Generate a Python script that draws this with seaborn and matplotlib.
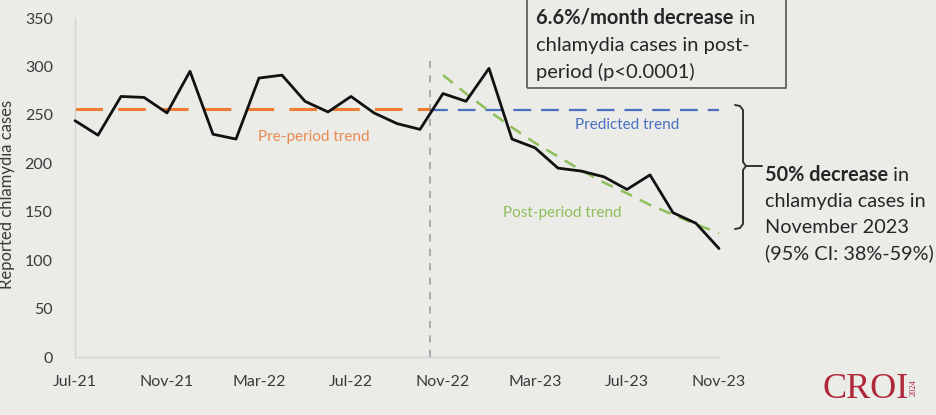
import numpy as np
import pandas as pd
import matplotlib
matplotlib.use("Agg")
import matplotlib.pyplot as plt
from matplotlib.patches import Rectangle
from matplotlib.lines import Line2D
import seaborn as sns

# ---- data -----------------------------------------------------------------
months = ["Jul-21", "Aug-21", "Sep-21", "Oct-21", "Nov-21", "Dec-21", "Jan-22",
          "Feb-22", "Mar-22", "Apr-22", "May-22", "Jun-22", "Jul-22", "Aug-22",
          "Sep-22", "Oct-22", "Nov-22", "Dec-22", "Jan-23", "Feb-23", "Mar-23",
          "Apr-23", "May-23", "Jun-23", "Jul-23", "Aug-23", "Sep-23", "Oct-23",
          "Nov-23"]
cases = [244, 229, 269, 268, 252, 295, 230, 225, 288, 291, 264, 253, 269, 252,
         241, 235, 272, 264, 298, 225, 216, 195, 192, 186, 173, 188, 149, 138,
         112]

pre_trend_x = [0, 15.45]
pre_trend_y = [256, 256]
predicted_x = [15.45, 28]
predicted_y = [255, 255]
post_trend_x = list(range(16, 29))
post_trend_y = [291, 272, 254, 237, 221, 207, 193, 180, 169, 157, 147, 137, 128]
intervention_x = 15.45

tick_idx = [0, 4, 8, 12, 16, 20, 24, 28]
y_ticks = [0, 50, 100, 150, 200, 250, 300, 350]

# ---- style ----------------------------------------------------------------
BG = "#ebebe8"
TXT = "#3a3a3a"
sns.set_theme(style="white")
plt.rcParams["font.family"] = ["Lato", "DejaVu Sans"]

W, H = 937, 415
fig = plt.figure(figsize=(W / 100, H / 100), dpi=100, facecolor=BG)
ax = fig.add_axes([75 / W, 58 / H, 644 / W, 339 / H], facecolor=BG)

def fx(px):
    return px / W

def fy(py):
    return 1 - py / H

df = pd.DataFrame({"month": np.arange(len(cases)), "cases": cases})
pre = pd.DataFrame({"x": pre_trend_x, "y": pre_trend_y})
pred = pd.DataFrame({"x": predicted_x, "y": predicted_y})
post = pd.DataFrame({"x": post_trend_x, "y": post_trend_y})

# trend lines
sns.lineplot(data=pre, x="x", y="y", ax=ax, color="#ed7d31", lw=2.2, zorder=2)
ax.lines[-1].set_dashes([9, 5])
sns.lineplot(data=pred, x="x", y="y", ax=ax, color="#4a70c0", lw=1.6, zorder=2)
ax.lines[-1].set_dashes([8, 4.5])
sns.lineplot(data=post, x="x", y="y", ax=ax, color="#8dbf5a", lw=1.8, zorder=2)
ax.lines[-1].set_dashes([5, 3.5])

# intervention marker
ax.plot([intervention_x, intervention_x], [0, 312], color="#a6a6a6", lw=1.3,
        dashes=[4, 4], zorder=1)

# observed monthly cases
sns.lineplot(data=df, x="month", y="cases", ax=ax, color="#111111", lw=2.0,
             zorder=3)
for ln in ax.lines:
    ln.set_clip_on(False)

ax.set_xlim(0, 28)
ax.set_ylim(0, 350)
ax.set_xticks(tick_idx)
ax.set_xticklabels([months[i] for i in tick_idx])
ax.set_yticks(y_ticks)
ax.tick_params(axis="x", length=4, width=1, color="#d4d4d4", pad=9,
               labelsize=11.5, labelcolor=TXT)
ax.tick_params(axis="y", length=0, pad=16, labelsize=11.5, labelcolor=TXT)
ax.set_xlabel("")
ax.set_ylabel("Reported chlamydia cases", fontsize=12, color=TXT)
ax.yaxis.set_label_coords((15 - 75) / 644, (357 - 194) / 339)
for s in ["top", "right"]:
    ax.spines[s].set_visible(False)
for s in ["left", "bottom"]:
    ax.spines[s].set_color("#d4d4d4")
    ax.spines[s].set_linewidth(1.0)

# trend labels
ax.text(10.4, 227, "Pre-period trend", color="#e98a50", fontsize=11,
        ha="center", va="center")
ax.text(24.0, 240, "Predicted trend", color="#4a70c0", fontsize=11,
        ha="center", va="center")
ax.text(21.2, 149, "Post-period trend", color="#8dbf5a", fontsize=11,
        ha="center", va="center")

# ---- annotations ----------------------------------------------------------
fig.canvas.draw()
renderer = fig.canvas.get_renderer()

def runs(x_px, y_px, parts, size=14.3):
    """Place text pieces of mixed weight one after another on one line."""
    x = x_px
    for text, weight in parts:
        t = fig.text(fx(x), fy(y_px), text, fontsize=size, weight=weight,
                     color="#262626", ha="left", va="center")
        bb = t.get_window_extent(renderer)
        x += bb.width

fig.add_artist(Rectangle((fx(527), fy(88)), fx(786) - fx(527), fy(-1) - fy(88),
                         transform=fig.transFigure, facecolor="none",
                         edgecolor="#555555", lw=1.2, clip_on=False))
runs(536, 18, [("6.6%/month decrease", "bold"), (" in", "normal")], 14.5)
runs(536, 46, [("chlamydia cases in post-", "normal")], 14.5)
runs(536, 72, [("period (p<0.0001)", "normal")], 14.5)

runs(765, 175, [("50% decrease", "bold"), (" in", "normal")])
runs(765, 201, [("chlamydia cases in", "normal")])
runs(765, 227, [("November 2023", "normal")])
runs(765, 253, [("(95% CI: 38%-59%)", "normal")])

# bracket linking predicted and post-period trends
br_top = [(735, 105), (740, 106), (743, 110), (743, 162), (746, 166), (762, 166)]
br_bot = [(735, 229), (740, 228), (743, 224), (743, 170), (746, 166)]
for pts in (br_top, br_bot):
    fig.add_artist(Line2D([fx(p[0]) for p in pts], [fy(p[1]) for p in pts],
                          transform=fig.transFigure, color="#333333", lw=1.4))

# conference mark
fig.text(fx(822), fy(389), "CROI", fontsize=26, color="#b0263a",
         family=["Liberation Serif"], ha="left", va="center")
fig.text(fx(914), fy(388), "2024", fontsize=6, color="#b0263a",
         family=["Liberation Serif"], rotation=90, ha="center", va="center")

fig.savefig("out.png", dpi=100, facecolor=BG)
